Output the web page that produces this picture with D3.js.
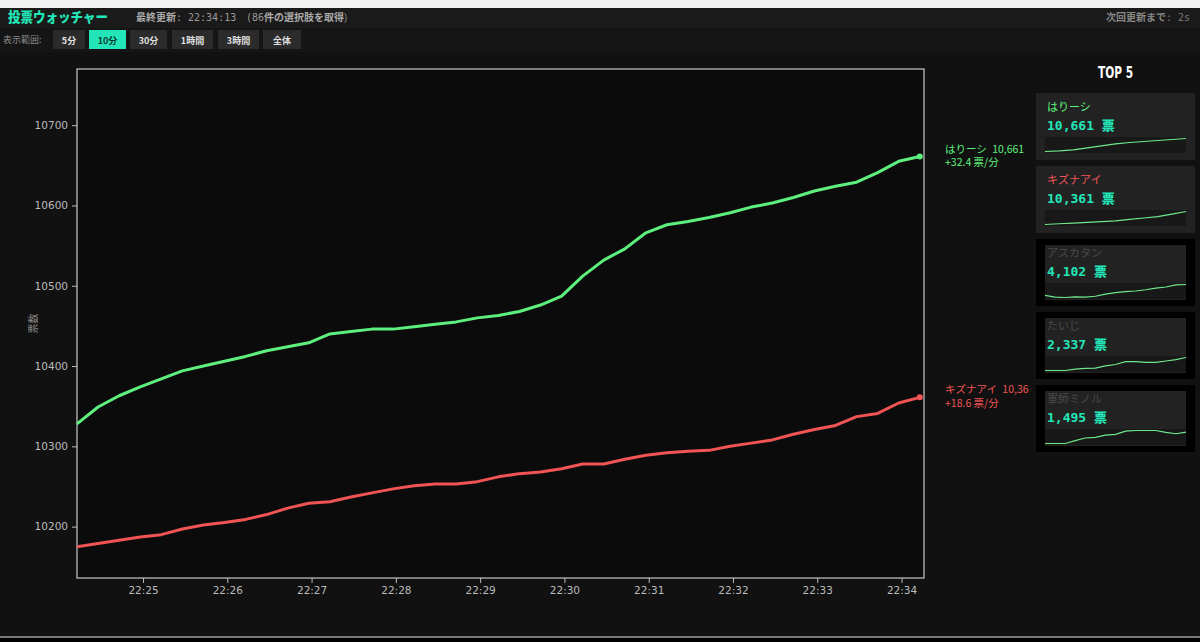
<!DOCTYPE html>
<html>
<head>
<meta charset="utf-8">
<script src="https://cdn.jsdelivr.net/npm/d3@7"></script>
<style>
  body { margin: 0; background: #111; overflow: hidden; }
  svg { display: block; }
</style>
</head>
<body>
<div id="app"></div>
<script>
// sampled every 15s
var times = ['22:24:13','22:24:28','22:24:43','22:24:58','22:25:13','22:25:28','22:25:43','22:25:58',
  '22:26:13','22:26:28','22:26:43','22:26:58','22:27:13','22:27:28','22:27:43','22:27:58',
  '22:28:13','22:28:28','22:28:43','22:28:58','22:29:13','22:29:28','22:29:43','22:29:58',
  '22:30:13','22:30:28','22:30:43','22:30:58','22:31:13','22:31:28','22:31:43','22:31:58',
  '22:32:13','22:32:28','22:32:43','22:32:58','22:33:13','22:33:28','22:33:43','22:33:58','22:34:13'];

var harisiVotes = [10328,10349,10363,10374,10384,10394,10400,10406,10412,10419,10424,10429,10440,10443,
  10446,10446,10449,10452,10455,10460,10463,10468,10476,10487,10512,10532,10546,10566,10576,10580,
  10585,10591,10598,10603,10610,10618,10624,10629,10641,10655,10661];
var kizunaVotes = [10175,10179,10183,10187,10190,10197,10202,10205,10209,10215,10223,10229,10231,10237,
  10242,10247,10251,10253,10253,10256,10262,10266,10268,10272,10278,10278,10284,10289,10292,10294,
  10295,10300,10304,10308,10315,10321,10326,10337,10341,10354,10361];

var seriesNames = ['はりーシ', 'キズナアイ'];
var seriesRates = ['+32.4', '+18.6'];
var seriesColors = ['#5ef07e', '#f05454'];

// top 5 cards
var topNames = ['はりーシ', 'キズナアイ', 'アスカタン', 'たいじ', '軍師ミノル'];
var topVotes = [10661, 10361, 4102, 2337, 1495];
var sparkHarisi = [9880, 9920, 9980, 10100, 10220, 10340, 10420, 10480, 10540, 10600, 10661];
var sparkKizuna = [10020, 10040, 10058, 10075, 10095, 10116, 10153, 10190, 10225, 10293, 10361];
var sparkAsuka = [4067, 4061, 4060, 4062, 4061, 4064, 4071, 4076, 4079, 4081, 4085, 4090, 4094, 4101, 4102];
var sparkTaiji = [2300, 2300, 2300, 2304, 2306, 2307, 2313, 2317, 2325, 2325, 2323, 2323, 2327, 2331, 2337];
var sparkMinoru = [1460, 1460, 1460, 1469, 1477, 1479, 1486, 1488, 1498, 1500, 1500, 1500, 1494, 1490, 1495];

var rangeButtons = ['5分', '10分', '30分', '1時間', '3時間', '全体'];
var activeRange = '10分';

var W = 1200, H = 642;
var jp = '"Noto Sans CJK JP", "Noto Sans", sans-serif';
var mono = '"DejaVu Sans Mono", "Liberation Mono", monospace';
var teal = '#22e6b8';

var svg = d3.select('#app').append('svg').attr('width', W).attr('height', H);

// page background
svg.append('rect').attr('width', W).attr('height', H).attr('fill', '#111');
svg.append('rect').attr('width', W).attr('height', 8).attr('fill', '#f2f2f2');
svg.append('rect').attr('y', 8).attr('width', W).attr('height', 20).attr('fill', '#1a1a1a');
svg.append('rect').attr('y', 28).attr('width', W).attr('height', 24).attr('fill', '#151515');
svg.append('rect').attr('y', 636).attr('width', W).attr('height', 2).attr('fill', '#777');
svg.append('rect').attr('y', 638).attr('width', W).attr('height', 4).attr('fill', '#000');

// header
svg.append('text').attr('x', 8).attr('y', 22).attr('fill', teal)
  .attr('textLength', 100).attr('lengthAdjust', 'spacingAndGlyphs')
  .style('font', '900 13.5px ' + jp).text('投票ウォッチャー');
var upd = svg.append('text').attr('x', 136).attr('y', 21).style('font-size', '10px');
upd.append('tspan').attr('fill', '#aaa').style('font-weight', 'bold').style('font-family', jp).text('最終更新');
upd.append('tspan').attr('fill', '#999').style('font-family', mono).text(': 22:34:13');
var cnt = svg.append('text').attr('x', 246).attr('y', 21).style('font-size', '10px');
cnt.append('tspan').attr('fill', '#999').style('font-family', mono).text('(86');
cnt.append('tspan').attr('fill', '#aaa').style('font-weight', 'bold').style('font-family', jp).text('件の選択肢を取得');
cnt.append('tspan').attr('fill', '#999').style('font-family', jp).text(')');
var nxt = svg.append('text').attr('x', 1190).attr('y', 21).attr('text-anchor', 'end').style('font-size', '10px');
nxt.append('tspan').attr('fill', '#888').style('font-weight', 'bold').style('font-family', jp).text('次回更新まで');
nxt.append('tspan').attr('fill', '#777').style('font-family', mono).text(': 2s');

// range buttons
svg.append('text').attr('x', 3).attr('y', 43).attr('fill', '#888')
  .style('font', '9px ' + jp).text('表示範囲:');
var btnX = d3.scaleOrdinal().domain(rangeButtons).range([53, 89, 130, 172, 218, 263]);
var btnW = d3.scaleOrdinal().domain(rangeButtons).range([32, 37, 37, 41, 41, 38]);
var btn = svg.selectAll('.btn').data(rangeButtons).enter().append('g').attr('class', 'btn')
  .attr('transform', function(d) { return 'translate(' + btnX(d) + ',30)'; });
btn.append('rect').attr('width', function(d) { return btnW(d); }).attr('height', 19)
  .attr('fill', function(d) { return d === activeRange ? teal : '#2b2b2b'; });
btn.append('text').attr('x', function(d) { return btnW(d) / 2; }).attr('y', 13.5)
  .attr('text-anchor', 'middle')
  .attr('fill', function(d) { return d === activeRange ? '#0a3a30' : '#e0e0e0'; })
  .style('font', 'bold 9px ' + jp).text(function(d) { return d; });

// main chart
var parse = d3.timeParse('%H:%M:%S');
var tDates = times.map(parse);
var margin = { top: 69, left: 77, right: 924, bottom: 578 };

var x = d3.scaleTime()
  .domain([parse('22:24:13'), parse('22:34:16')])
  .range([margin.left, margin.right]);
var y = d3.scaleLinear().domain([10136, 10770]).range([margin.bottom, margin.top]);

svg.append('clipPath').attr('id', 'chartclip').append('rect')
  .attr('width', 1029).attr('height', H);
var chart = svg.append('g').attr('clip-path', 'url(#chartclip)');

chart.append('rect').attr('x', margin.left).attr('y', margin.top)
  .attr('width', margin.right - margin.left).attr('height', margin.bottom - margin.top)
  .attr('fill', '#0b0b0b');

var yAxis = chart.append('g').attr('transform', 'translate(' + margin.left + ',0)')
  .call(d3.axisLeft(y).tickValues([10200, 10300, 10400, 10500, 10600, 10700]).tickSize(5).tickPadding(4).tickFormat(d3.format('d')));
var xAxis = chart.append('g').attr('transform', 'translate(0,' + margin.bottom + ')')
  .call(d3.axisBottom(x).ticks(d3.timeMinute.every(1)).tickSize(5).tickPadding(4).tickFormat(d3.timeFormat('%H:%M')));
[yAxis, xAxis].forEach(function(a) {
  a.select('.domain').remove();
  a.selectAll('line').attr('stroke', '#bbb');
  a.selectAll('text').attr('fill', '#bbb').style('font', '10.5px "DejaVu Sans", sans-serif');
});

chart.append('rect').attr('x', margin.left).attr('y', margin.top)
  .attr('width', margin.right - margin.left).attr('height', margin.bottom - margin.top)
  .attr('fill', 'none').attr('stroke', '#c8c8c8').attr('stroke-width', 1.2);

chart.append('text').attr('transform', 'translate(37,' + ((margin.top + margin.bottom) / 2) + ') rotate(-90)')
  .attr('text-anchor', 'middle').attr('fill', '#888').style('font', '10px ' + jp).text('票数');

var line = d3.line()
  .x(function(d, i) { return x(tDates[i]); })
  .y(function(d) { return y(d); });

var allSeries = [harisiVotes, kizunaVotes];
allSeries.forEach(function(vals, k) {
  chart.append('path').datum(vals).attr('d', line).attr('fill', 'none')
    .attr('stroke', seriesColors[k]).attr('stroke-width', 3).attr('stroke-linejoin', 'round');
  var last = vals[vals.length - 1];
  var lx = x(tDates[tDates.length - 1]), ly = y(last);
  chart.append('circle').attr('cx', lx).attr('cy', ly).attr('r', 3).attr('fill', seriesColors[k]);
  chart.append('text').attr('x', 945).attr('y', ly - 4).attr('fill', seriesColors[k])
    .style('font', '10.5px ' + jp).style('word-spacing', '3px')
    .text(seriesNames[k] + ' ' + d3.format(',')(last));
  chart.append('text').attr('x', 945).attr('y', ly + 9.5).attr('fill', seriesColors[k])
    .style('font', '10.5px ' + jp).text(seriesRates[k] + ' 票/分');
});

// TOP 5 panel
svg.append('text').attr('x', 1098).attr('y', 78).attr('fill', '#fff')
  .attr('textLength', 35).attr('lengthAdjust', 'spacingAndGlyphs')
  .style('font', 'bold 16px "DejaVu Sans Condensed", "DejaVu Sans", sans-serif')
  .text('TOP 5');

var sparks = [sparkHarisi, sparkKizuna, sparkAsuka, sparkTaiji, sparkMinoru];
var cardTop = d3.scaleLinear().domain([0, 1]).range([93, 166]);
topNames.forEach(function(name, i) {
  var g = svg.append('g').attr('transform', 'translate(0,' + cardTop(i) + ')');
  var highlighted = i < 2;
  g.append('rect').attr('x', 1036).attr('y', 0).attr('width', 159).attr('height', 67)
    .attr('fill', highlighted ? '#222' : '#000');
  if (!highlighted) {
    g.append('rect').attr('x', 1045).attr('y', 6).attr('width', 141).attr('height', 55).attr('fill', '#222');
  }
  var nameColor = i === 0 ? seriesColors[0] : i === 1 ? seriesColors[1] : '#4a4a4a';
  g.append('text').attr('x', 1047).attr('y', 18).attr('fill', nameColor)
    .style('font', '11px ' + jp).text(name);
  var v = g.append('text').attr('x', 1047).attr('y', 37).attr('fill', teal)
    .style('font-weight', 'bold').style('font-size', '13px');
  v.append('tspan').style('font-family', mono).text(d3.format(',')(topVotes[i]) + ' ');
  v.append('tspan').style('font-family', jp).style('font-weight', '900').text('票');

  var sx0 = 1045, sx1 = 1186, sy0 = 44, sy1 = 60;
  g.append('rect').attr('x', sx0).attr('y', sy0).attr('width', sx1 - sx0).attr('height', sy1 - sy0)
    .attr('fill', '#181818');
  var sp = sparks[i];
  var sx = d3.scaleLinear().domain([0, sp.length - 1]).range([sx0, sx1]);
  var sy = d3.scaleLinear().domain(d3.extent(sp)).range([sy1 - 1.5, sy0 + 1.5]);
  g.append('path').datum(sp)
    .attr('d', d3.line().x(function(d, j) { return sx(j); }).y(function(d) { return sy(d); }))
    .attr('fill', 'none').attr('stroke', '#6ee88a').attr('stroke-width', 1.2);
});
</script>
</body>
</html>
